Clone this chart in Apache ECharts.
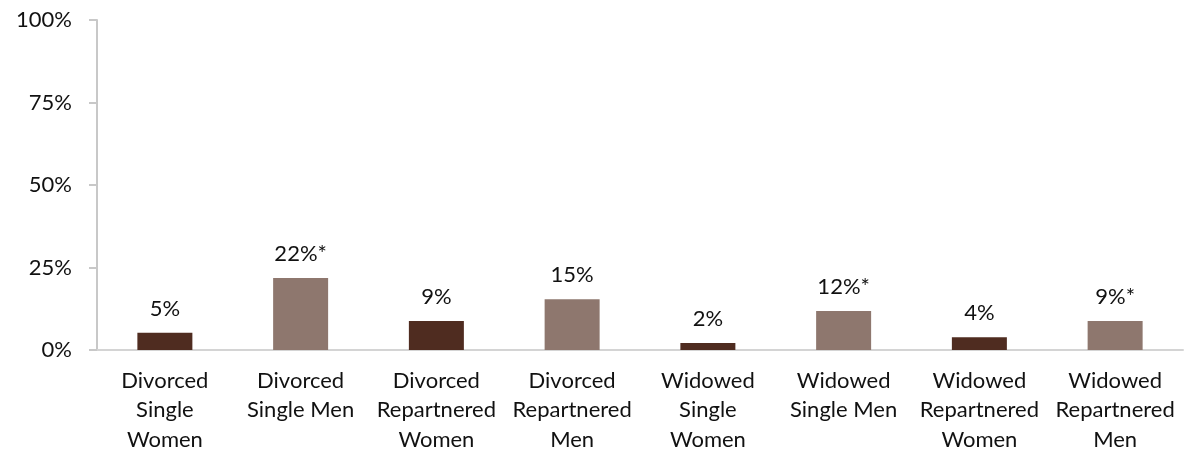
<!DOCTYPE html>
<html>
<head>
<meta charset="utf-8">
<script src="https://cdn.jsdelivr.net/npm/echarts@6/dist/echarts.min.js"></script>
<style>
  html, body { margin: 0; padding: 0; background: #fff; }
  #chart { width: 1201px; height: 451px; }
</style>
</head>
<body>
<div id="chart"></div>
<script>
  // categories and values
  var categories = [
    'Divorced\nSingle\nWomen', 'Divorced\nSingle Men', 'Divorced\nRepartnered\nWomen', 'Divorced\nRepartnered\nMen',
    'Widowed\nSingle\nWomen', 'Widowed\nSingle Men', 'Widowed\nRepartnered\nWomen', 'Widowed\nRepartnered\nMen'
  ];
  var values = [5.2, 21.8, 8.8, 15.4, 2.1, 11.8, 3.9, 8.8];
  var valueLabels = ['5%', '22%*', '9%', '15%', '2%', '12%*', '4%', '9%*'];
  var yTicks = [0, 25, 50, 75, 100];

  var dark = '#4f2c20', light = '#8e776e';
  var fontFam = 'Lato, "Open Sans", sans-serif';

  var chart = echarts.init(document.getElementById('chart'));
  chart.setOption({
    animation: false,
    grid: { left: 97, right: 18, top: 20, bottom: 101, outerBoundsMode: 'none', containLabel: false },
    xAxis: {
      type: 'category',
      data: categories,
      axisLine: { lineStyle: { color: '#d4d4d4', width: 2 } },
      axisTick: { show: false },
      axisLabel: { color: '#111', fontSize: 22, fontFamily: fontFam, lineHeight: 29.5, margin: 16, interval: 0 }
    },
    yAxis: {
      type: 'value',
      min: yTicks[0],
      max: yTicks[yTicks.length - 1],
      interval: 25,
      splitLine: { show: false },
      axisLine: { show: true, lineStyle: { color: '#c8c8c8', width: 2 } },
      axisTick: { show: true, length: 8, lineStyle: { color: '#c8c8c8', width: 2 } },
      axisLabel: { color: '#111', fontSize: 22, fontFamily: fontFam, margin: 25, formatter: '{value}%' }
    },
    series: [{
      type: 'bar',
      barWidth: 55,
      data: values.map(function (v, i) {
        return { value: v, itemStyle: { color: i % 2 === 0 ? dark : light } };
      }),
      label: {
        show: true,
        position: 'top',
        distance: 13,
        color: '#111',
        fontSize: 22,
        fontFamily: fontFam,
        formatter: function (p) { return valueLabels[p.dataIndex]; }
      }
    }]
  });
</script>
</body>
</html>
